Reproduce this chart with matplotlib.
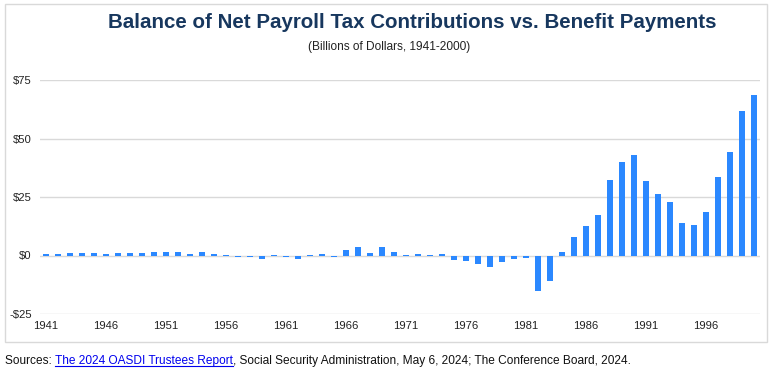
import matplotlib
matplotlib.use("Agg")
import matplotlib.pyplot as plt
from matplotlib.patches import Rectangle

years = list(range(1941, 2001))
balance = [
    0.6, 0.8, 0.9, 0.9, 0.9, 0.8, 0.9, 0.9, 0.9, 1.7,   # 1941-1950
    1.7, 1.7, 0.8, 1.6, 0.5, 0.4, -0.5, -0.5, -1.7, 0.1,  # 1951-1960
    -0.5, -1.5, 0.3, 0.8, -0.8, 2.3, 3.5, 1.0, 3.6, 1.3,  # 1961-1970
    0.2, 0.6, 0.3, 0.6, -1.8, -2.4, -3.6, -5.0, -2.7, -1.6,  # 1971-1980
    -1.2, -15.1, -11.0, 1.6, 7.8, 12.4, 17.5, 32.1, 39.9, 42.9,  # 1981-1990
    31.8, 26.1, 22.9, 14.1, 13.1, 18.7, 33.5, 44.3, 61.8, 68.5,  # 1991-2000
]
tick_years = [1941, 1946, 1951, 1956, 1961, 1966, 1971, 1976, 1981, 1986, 1991, 1996]
y_ticks = [-25, 0, 25, 50, 75]
y_tick_labels = ["-$25", "$0", "$25", "$50", "$75"]

title = "Balance of Net Payroll Tax Contributions vs. Benefit Payments"
subtitle = "(Billions of Dollars, 1941-2000)"

plt.rcParams['font.family'] = ['Liberation Sans', 'DejaVu Sans']

W, H = 774, 370
fig = plt.figure(figsize=(W / 100, H / 100), dpi=100)

# outer border
fig.patches.append(Rectangle((5 / W, 1 - 342 / H), (767 - 5) / W, (342 - 4) / H,
                             transform=fig.transFigure, fill=False,
                             edgecolor="#d9d9d9", linewidth=1.0))

ax = fig.add_axes([40 / W, 1 - 314 / H, (760 - 40) / W, (314 - 80) / H])
ax.bar(years, balance, width=0.42, color="#2b88ff", zorder=3)
ax.set_xlim(1940.5, 2000.5)
ax.set_ylim(-25, 75)
ax.set_yticks(y_ticks)
ax.set_yticklabels(y_tick_labels)
ax.set_xticks(tick_years)
ax.set_xticklabels([str(y) for y in tick_years])
ax.grid(axis="y", color="#d9d9d9", linewidth=1.0, zorder=0)
for s in ax.spines.values():
    s.set_visible(False)
ax.tick_params(axis="both", length=0, labelsize=8.1, colors="#222222")
ax.tick_params(axis="y", pad=6)
ax.tick_params(axis="x", pad=5)

fig.text(412 / W, 1 - 22 / H, title, ha="center", va="center",
         fontsize=14.8, fontweight="bold", color="#17375e")
fig.text(389 / W, 1 - 47 / H, subtitle, ha="center", va="center",
         fontsize=8.6, color="#222222")

src1 = fig.text(5 / W, 1 - 361 / H, "Sources: ", ha="left", va="center",
                fontsize=8.55, color="#111111")
fig.canvas.draw()
r = fig.canvas.get_renderer()
bb = src1.get_window_extent(r)
src2 = fig.text(bb.x1 / W, 1 - 361 / H, "The 2024 OASDI Trustees Report", ha="left",
                va="center", fontsize=8.55, color="#0000ee")
bb2 = src2.get_window_extent(r)
fig.add_artist(plt.Line2D([bb2.x0 / W, bb2.x1 / W], [(bb2.y0 + 1) / H, (bb2.y0 + 1) / H],
                          transform=fig.transFigure, color="#0000ee", linewidth=0.8))
fig.text(bb2.x1 / W, 1 - 361 / H,
         ", Social Security Administration, May 6, 2024; The Conference Board, 2024.",
         ha="left", va="center", fontsize=8.55, color="#111111")

fig.savefig("out.png", dpi=100)
